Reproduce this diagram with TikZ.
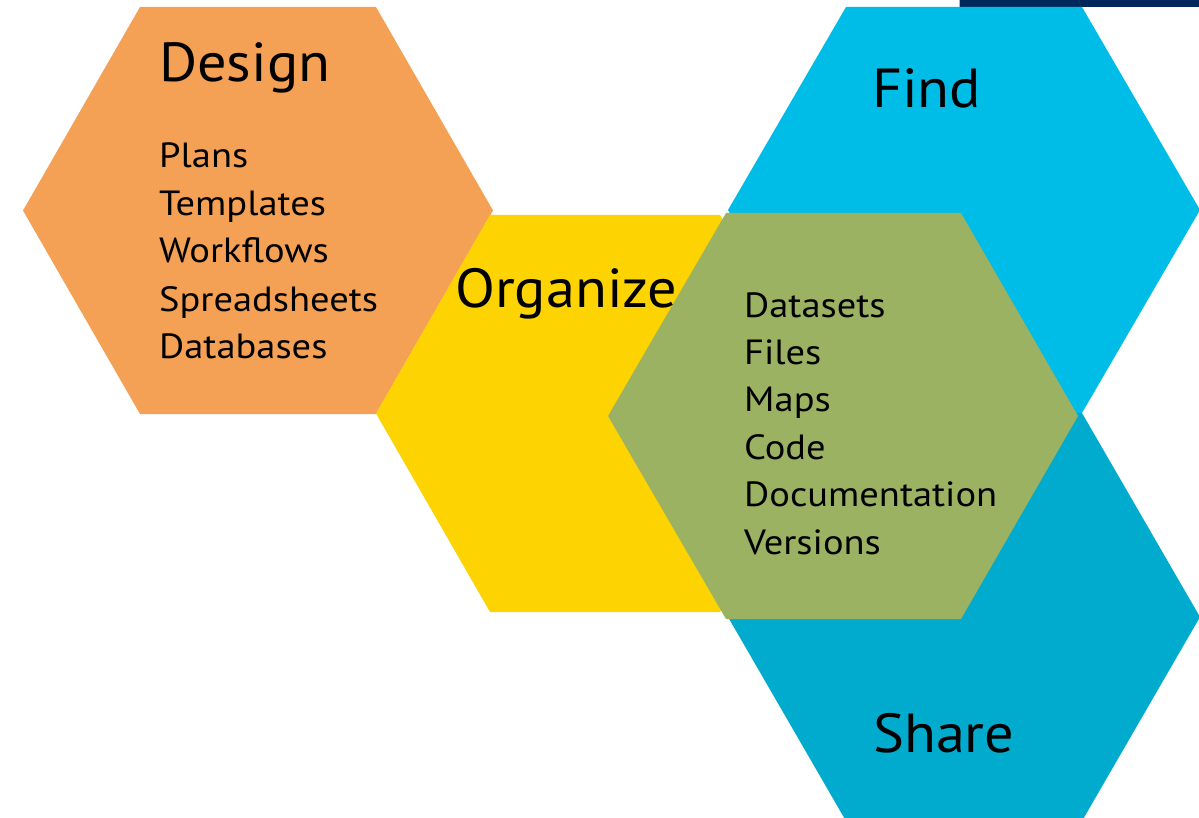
\documentclass[tikz,border=0pt]{standalone}
\usepackage{fontspec}
\setmainfont{PT Sans}
\newfontfamily\titlefont[FakeStretch=1.06]{PT Sans}
\newfontfamily\itemfont[FakeStretch=1.1]{PT Sans}
\definecolor{cOrange}{HTML}{F4A155}
\definecolor{cYellow}{HTML}{FDD302}
\definecolor{cFind}{HTML}{00BDE8}
\definecolor{cShare}{HTML}{00ABCE}
\definecolor{cGreen}{HTML}{9BB262}
\definecolor{cNavy}{HTML}{00285A}
\begin{document}
\begin{tikzpicture}[x=1pt,y=-1pt,
  title/.style={inner sep=0pt, anchor=base west, font=\titlefont\fontsize{55}{60}\selectfont},
  item/.style={inner sep=0pt, anchor=base west, font=\itemfont\fontsize{35}{40}\selectfont}]
\useasboundingbox (0,0) rectangle (1199,818);
\clip (0,0) rectangle (1199,818);
\fill[white] (0,0) rectangle (1199,818);
% top navy bar
\fill[cNavy] (960,0) rectangle (1199,7);
\fill[gray!60] (959,0) rectangle (960,7);
% hexagons
\fill[cOrange] (23,210.5) -- (140,7) -- (376,7) -- (493,210.5) -- (376,414) -- (140,414) -- cycle;
\fill[cYellow] (376,413.5) -- (490,215) -- (720,215) -- (834,413.5) -- (720,612) -- (490,612) -- cycle;
\fill[cFind] (728,210) -- (846,7) -- (1082,7) -- (1200,210) -- (1082,413) -- (846,413) -- cycle;
\fill[cShare] (728,617) -- (846,413) -- (1082,413) -- (1200,617) -- (1082,821) -- (846,821) -- cycle;
\fill[cGreen] (608,416) -- (726,213) -- (961,213) -- (1078,416) -- (961,619) -- (726,619) -- cycle;
% titles
\node[title] (design) at (159,82) {Design};
\node[title] (organize) at (455,307) {Organize};
\node[title] (find) at (872,108) {Find};
\node[title] (share) at (873,752) {Share};
% design items
\node[item] (d1) at (159,168) {Plans};
\node[item] (d2) at (159,216) {Templates};
\node[item] (d3) at (159,263) {Workflows};
\node[item] (d4) at (159,311) {Spreadsheets};
\node[item] (d5) at (159,358) {Databases};
% green items
\node[item] (g1) at (744,317) {Datasets};
\node[item] (g2) at (744,364) {Files};
\node[item] (g3) at (744,411) {Maps};
\node[item] (g4) at (744,459) {Code};
\node[item] (g5) at (744,506) {Documentation};
\node[item] (g6) at (744,554) {Versions};
\end{tikzpicture}
\end{document}
